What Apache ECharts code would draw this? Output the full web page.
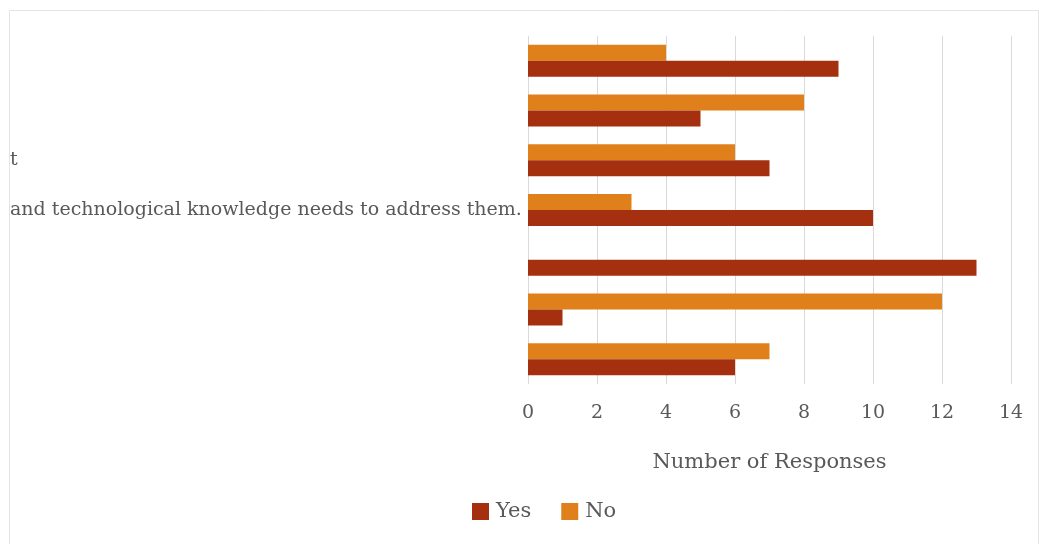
<!DOCTYPE html>
<html><head><meta charset="utf-8">
<script src="https://cdn.jsdelivr.net/npm/echarts@6/dist/echarts.min.js"></script>
<style>html,body{margin:0;padding:0;background:#fff}#c{width:1039px;height:544px}</style>
</head><body><div id="c"></div>
<script>
const categoryKeys = ['Q1','Q2','Q3','Q4','Q5','Q6','Q7'];
const categoryLabels = ['', '', 't', 'and technological knowledge needs to address them.', '', '', ''];
const yesValues = [9, 5, 7, 10, 13, 1, 6];
const noValues = [4, 8, 6, 3, 0, 12, 7];
const xTicks = [0, 2, 4, 6, 8, 10, 12, 14];
const seriesNames = ['Yes', 'No'];
const axisTitle = 'Number of Responses';

const font = '"DejaVu Serif", serif';
const chart = echarts.init(document.getElementById('c'), null, {renderer: 'canvas'});
chart.setOption({
  animation: false,
  backgroundColor: '#fff',
  graphic: [{type: 'rect', left: 7, top: 8, shape: {width: 1029, height: 545}, style: {fill: 'none', stroke: '#e4e4e4', lineWidth: 1}, silent: true}],
  grid: {left: 528, right: 28, top: 36, bottom: 160, containLabel: false},
  legend: {
    data: seriesNames, bottom: 17, left: 467, itemWidth: 17, itemHeight: 17, itemGap: 30,
    icon: 'rect',
    textStyle: {fontFamily: font, fontSize: 21, color: '#595959', padding: [0, 0, 0, 2]}
  },
  xAxis: {
    type: 'value', min: xTicks[0], max: xTicks[xTicks.length - 1], interval: 2,
    name: axisTitle, nameLocation: 'middle', nameGap: 68,
    nameTextStyle: {fontFamily: font, fontSize: 21, color: '#595959'},
    axisLine: {show: false}, axisTick: {show: false},
    axisLabel: {fontFamily: font, fontSize: 19, color: '#595959', margin: 20},
    splitLine: {lineStyle: {color: '#d9d9d9', width: 1}}
  },
  yAxis: {
    type: 'category', data: categoryKeys, inverse: true,
    axisLine: {show: false}, axisTick: {show: false},
    axisLabel: {fontFamily: font, fontSize: 19, color: '#595959', margin: 518, align: 'left',
      formatter: (v, i) => categoryLabels[i]}
  },
  series: [
    {name: seriesNames[1], type: 'bar', data: noValues, barWidth: 16, barGap: '0%', itemStyle: {color: '#E0801A'}},
    {name: seriesNames[0], type: 'bar', data: yesValues, barWidth: 16, barGap: '0%', itemStyle: {color: '#A5300F'}}
  ]
});
</script></body></html>
